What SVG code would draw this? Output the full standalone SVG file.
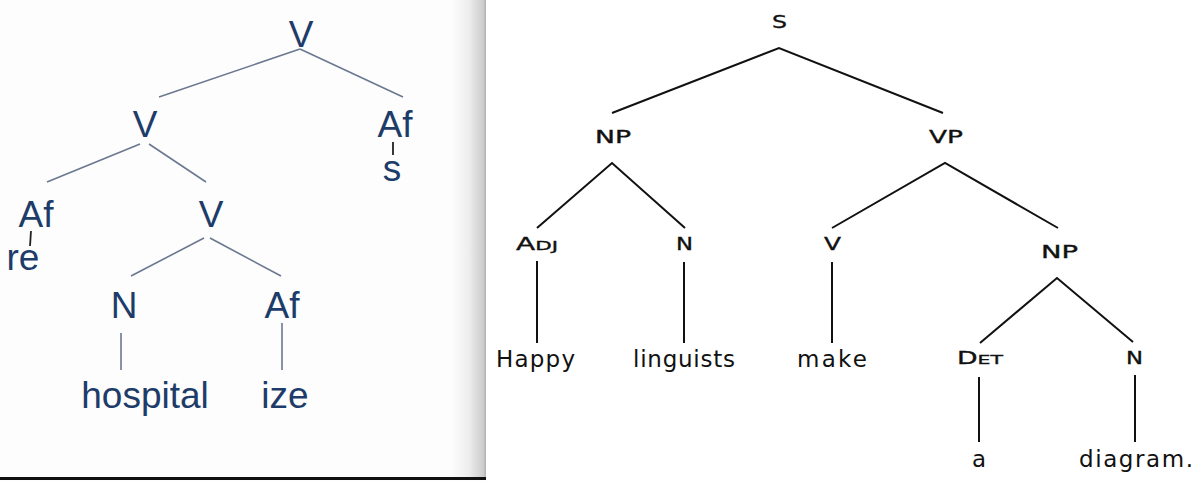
<svg xmlns="http://www.w3.org/2000/svg" width="1200" height="481" viewBox="0 0 1200 481">
<defs>
<linearGradient id="edge" x1="0" y1="0" x2="1" y2="0">
<stop offset="0" stop-color="#fcfcfc"/>
<stop offset="0.5" stop-color="#eeeeee"/>
<stop offset="1" stop-color="#c8c8c8"/>
</linearGradient>
</defs>
<style>
.lt{font-family:"Liberation Sans",Arial,sans-serif;font-size:37px;fill:#1e3c69;text-anchor:middle}
.ll{stroke:#6a7890;stroke-width:1.6;fill:none}
.lk{stroke:#222;stroke-width:1.8}
.rl{font-family:"DejaVu Sans",sans-serif;font-size:17px;fill:#111;stroke:#111;stroke-width:0.35}
.rw{font-family:"DejaVu Sans",sans-serif;font-size:23px;fill:#111}
.rc{stroke:#111;stroke-width:2;fill:none}
.sm{font-size:13px}
</style>
<rect x="0" y="0" width="1200" height="481" fill="#ffffff"/>
<rect x="0" y="0" width="486" height="481" fill="#fdfdfd"/>
<rect x="452" y="0" width="33" height="478" fill="url(#edge)"/>
<rect x="484.5" y="0" width="1.5" height="478" fill="#b4b4b4"/>
<rect x="0" y="477" width="486" height="3" fill="#111"/>

<g id="connectors">
<line class="ll" x1="300" y1="49" x2="159" y2="97"/>
<line class="ll" x1="300" y1="49" x2="403" y2="97"/>
<line class="ll" x1="140" y1="144" x2="47" y2="182"/>
<line class="ll" x1="149" y1="144" x2="206" y2="182"/>
<line class="ll" x1="204" y1="238" x2="131" y2="276"/>
<line class="ll" x1="210" y1="238" x2="281" y2="276"/>
<line class="ll" x1="121" y1="333" x2="121" y2="370"/>
<line class="ll" x1="282" y1="323" x2="282" y2="370"/>
<line class="lk" x1="393" y1="142" x2="393" y2="155"/>
<line class="lk" x1="31" y1="231" x2="30" y2="246"/>

<polyline class="rc" points="612,113 779,48 943,113"/>
<polyline class="rc" points="537,228 612,163 685,228"/>
<polyline class="rc" points="832,228 945,163 1058,228"/>
<polyline class="rc" points="980,343 1057,278 1133,342"/>
<line class="rc" x1="537" y1="261" x2="537" y2="343"/>
<line class="rc" x1="684" y1="262" x2="684" y2="343"/>
<line class="rc" x1="832" y1="262" x2="832" y2="343"/>
<line class="rc" x1="979" y1="377" x2="979" y2="442" stroke-width="2.6"/>
<line class="rc" x1="1135" y1="375" x2="1135" y2="442" stroke-width="2.6"/>
</g>

<g id="l-v-top"><text class="lt" x="301" y="47">V</text></g>
<g id="l-v2"><text class="lt" x="145" y="137">V</text></g>
<g id="l-af-right"><text class="lt" x="395" y="137">Af</text></g>
<g id="l-s"><text class="lt" x="392" y="181">s</text></g>
<g id="l-af-left"><text class="lt" x="36" y="227">Af</text></g>
<g id="l-re"><text class="lt" x="23" y="270">re</text></g>
<g id="l-v3"><text class="lt" x="211" y="227">V</text></g>
<g id="l-n"><text class="lt" x="124" y="318">N</text></g>
<g id="l-af-mid"><text class="lt" x="282" y="318">Af</text></g>
<g id="l-hospital"><text class="lt" x="145" y="408">hospital</text></g>
<g id="l-ize"><text class="lt" x="285" y="408">ize</text></g>

<g id="r-s"><text class="rl" x="772" y="28" font-size="15" textLength="15" lengthAdjust="spacingAndGlyphs">S</text></g>
<g id="r-np"><text class="rl" x="595" y="143" font-size="18" textLength="36" lengthAdjust="spacingAndGlyphs">NP</text></g>
<g id="r-vp"><text class="rl" x="929" y="143" font-size="18" textLength="34" lengthAdjust="spacingAndGlyphs">VP</text></g>
<g id="r-adj"><text class="rl" x="516" y="250" font-size="18" textLength="42" lengthAdjust="spacingAndGlyphs">A<tspan class="sm">DJ</tspan></text></g>
<g id="r-n1"><text class="rl" x="676" y="250" textLength="17" lengthAdjust="spacingAndGlyphs">N</text></g>
<g id="r-v"><text class="rl" x="824" y="250" textLength="17" lengthAdjust="spacingAndGlyphs">V</text></g>
<g id="r-np2"><text class="rl" x="1041" y="258" font-size="18" textLength="37" lengthAdjust="spacingAndGlyphs">NP</text></g>
<g id="r-det"><text class="rl" x="957" y="364" textLength="46" lengthAdjust="spacingAndGlyphs">D<tspan class="sm">ET</tspan></text></g>
<g id="r-n2"><text class="rl" x="1126" y="364" textLength="17" lengthAdjust="spacingAndGlyphs">N</text></g>
<g id="r-happy"><text class="rw" x="496" y="367" textLength="79">Happy</text></g>
<g id="r-linguists"><text class="rw" x="633" y="367" textLength="102">linguists</text></g>
<g id="r-make"><text class="rw" x="797" y="367" textLength="70">make</text></g>
<g id="r-a"><text class="rw" x="972" y="467">a</text></g>
<g id="r-diagram"><text class="rw" x="1079" y="467" textLength="114">diagram.</text></g>
</svg>
